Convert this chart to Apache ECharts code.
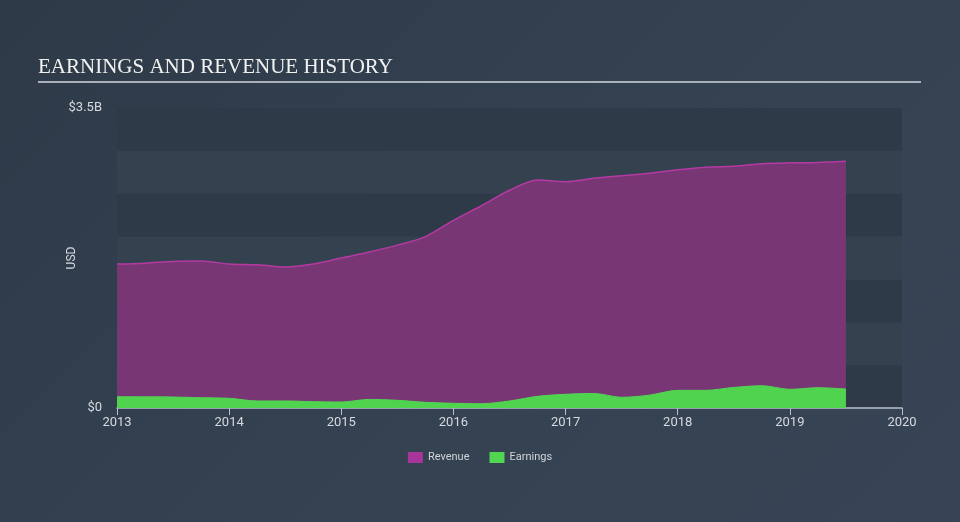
<!DOCTYPE html>
<html>
<head>
<meta charset="utf-8">
<script src="https://cdn.jsdelivr.net/npm/echarts@6/dist/echarts.min.js"></script>
<style>
html,body{margin:0;padding:0;background:#313e4d;}
#c{width:960px;height:522px;background:linear-gradient(135deg,#2e3a48 0%,#344252 60%,#364455 100%);}
</style>
</head>
<body>
<div id="c"></div>
<script>
var periods = [2013.0,2013.25,2013.5,2013.75,2014.0,2014.25,2014.5,2014.75,2015.0,2015.25,2015.5,2015.75,2016.0,2016.25,2016.5,2016.75,2017.0,2017.25,2017.5,2017.75,2018.0,2018.25,2018.5,2018.75,2019.0,2019.25,2019.5];
var revenue = [1.68,1.69,1.71,1.715,1.68,1.67,1.645,1.68,1.75,1.82,1.90,2.0,2.19,2.36,2.54,2.66,2.64,2.68,2.71,2.74,2.78,2.81,2.82,2.85,2.86,2.865,2.88];
var earnings = [0.132,0.13,0.128,0.12,0.113,0.082,0.082,0.074,0.07,0.10,0.09,0.066,0.055,0.05,0.082,0.136,0.16,0.17,0.125,0.15,0.206,0.206,0.24,0.26,0.218,0.237,0.222];
var yearTicks = [2013,2014,2015,2016,2017,2018,2019,2020];

function pairs(vals){ return periods.map(function(p,i){ return [p, vals[i]*1e9]; }); }

var chart = echarts.init(document.getElementById('c'));
chart.setOption({
  backgroundColor: 'transparent',
  animation: false,
  textStyle: {fontFamily: 'Roboto, "DejaVu Sans", sans-serif'},
  graphic: [
    {type:'text', left:38, top:57, style:{text:'EARNINGS AND REVENUE HISTORY', fill:'#f2f2f2', font:'21px "Liberation Serif", "DejaVu Serif", serif'}},
    {type:'rect', shape:{x:38, y:81, width:883, height:2}, style:{fill:'#a9b0b9'}},
    {type:'text', x:72, y:258, rotation:Math.PI/2, style:{text:'USD', fill:'#d6dadf', fontSize:12, fontFamily:'Roboto, "DejaVu Sans", sans-serif', align:'center', verticalAlign:'middle'}}
  ],
  grid: {left:117, right:58, top:108, bottom:114},
  legend: {
    bottom: 54, left: 'center', icon: 'rect', itemWidth: 15, itemHeight: 11, itemGap: 20,
    textStyle: {color:'#d0d4d9', fontSize: 11},
    data: ['Revenue','Earnings']
  },
  xAxis: {
    type:'value', min:2013, max:2020, interval:1,
    axisLine:{show:true, lineStyle:{color:'#b8c0ca', width:1.5}},
    axisTick:{show:true, length:7, lineStyle:{color:'#b8c0ca'}},
    axisLabel:{color:'#d6dadf', fontSize:13, margin:8, formatter:function(v){ return yearTicks.indexOf(v)>=0 ? String(v) : ''; }},
    splitLine:{show:false}
  },
  yAxis: {
    type:'value', min:0, max:3.5e9, interval:0.5e9,
    axisLine:{show:false}, axisTick:{show:false},
    axisLabel:{color:'#d6dadf', fontSize:13, margin:15, formatter:function(v){ if(v===0) return '$0'; if(Math.abs(v-3.5e9)<1) return '$3.5B'; return ''; }},
    splitLine:{show:false},
    splitArea:{show:true, areaStyle:{color:['#2e3a48','#344250']}}
  },
  series: [
    {name:'Revenue', type:'line', smooth:0.3, symbol:'none', data:pairs(revenue),
     itemStyle:{color:'#a8359a'}, lineStyle:{color:'#b43aa2', width:1.5},
     areaStyle:{color:'#783774', opacity:1}, z:2},
    {name:'Earnings', type:'line', smooth:0.3, symbol:'none', data:pairs(earnings),
     itemStyle:{color:'#52d652'}, lineStyle:{color:'#52d652', width:1},
     areaStyle:{color:'#50d450', opacity:1}, z:3}
  ]
});
</script>
</body>
</html>
